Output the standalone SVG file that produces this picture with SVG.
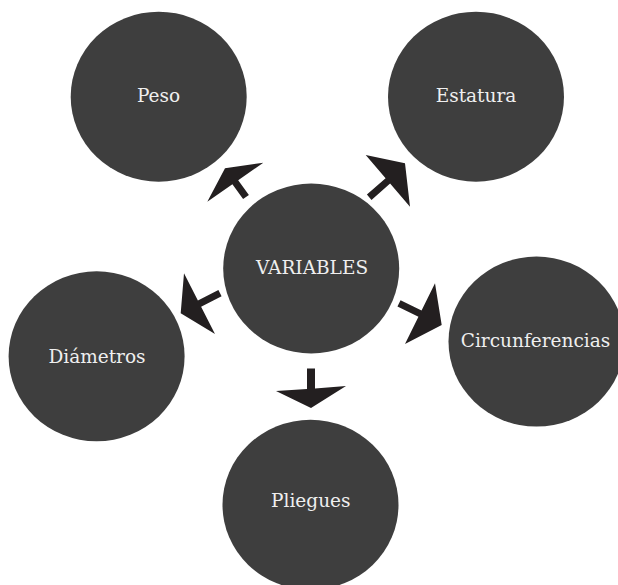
<svg xmlns="http://www.w3.org/2000/svg" width="618" height="585" viewBox="0 0 618 585">
<style>
.node ellipse{fill:#3e3e3e;}
.node text{fill:#efefef;font-family:"DejaVu Serif","Liberation Serif",serif;font-size:18.5px;text-anchor:middle;}
.arrow{fill:#231f20;}
</style>
<rect width="618" height="585" fill="#ffffff"/>
<g id="node-peso" class="node"><ellipse cx="158.7" cy="96.7" rx="88" ry="85"/><text x="158.5" y="102">Peso</text></g>
<g id="node-estatura" class="node"><ellipse cx="476" cy="96.7" rx="88" ry="85"/><text x="476" y="102">Estatura</text></g>
<g id="node-variables" class="node"><ellipse cx="311.2" cy="268.5" rx="88" ry="85"/><text x="312" y="274">VARIABLES</text></g>
<g id="node-diametros" class="node"><ellipse cx="96.6" cy="356.3" rx="88" ry="85"/><text x="97" y="362.5">Diámetros</text></g>
<g id="node-circunferencias" class="node"><ellipse cx="536.5" cy="341.6" rx="88" ry="85"/><text x="535.5" y="346.8">Circunferencias</text></g>
<g id="node-pliegues" class="node"><ellipse cx="310.5" cy="504.8" rx="88" ry="85"/><text x="310.8" y="507">Pliegues</text></g>
<g id="connectors">
<polygon class="arrow" points="225,168.3 263.3,162.7 238.2,180.2 248.9,195 243.1,199 232.4,184.2 207.3,201.7"/>
<polygon class="arrow" points="405,163.3 410,206.7 390.1,183.5 371.5,199.9 366.9,194.5 385.6,178.2 365.7,155"/>
<polygon class="arrow" points="180.7,313.3 184,273.3 197.9,300.5 218.4,290.1 221.6,296.3 201.1,306.8 215,334"/>
<polygon class="arrow" points="441.7,325 435,283.3 421.55,310.5 400.55,300.2 397.45,306.4 418.45,316.8 405,344"/>
<polygon class="arrow" points="311,408 276,391 307,389 307,368.5 315,368.5 315,388.5 346,386"/>
</g>
</svg>
